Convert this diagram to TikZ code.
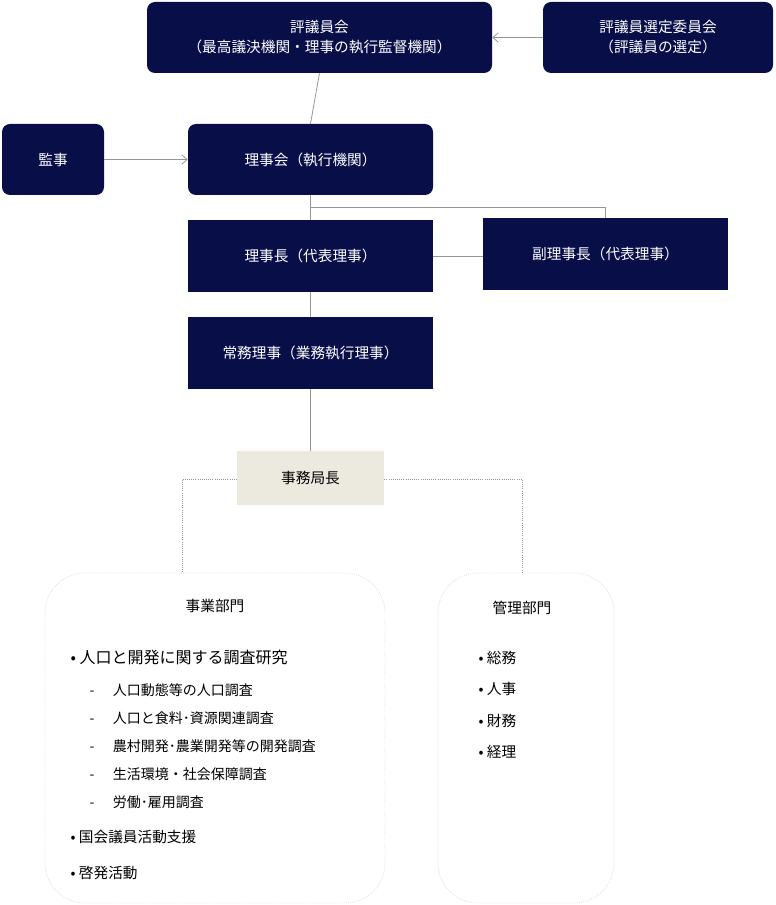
\documentclass[tikz,border=0pt]{standalone}
\usepackage{fontspec}
\setmainfont{Noto Sans CJK JP}
\usetikzlibrary{arrows.meta}
\definecolor{navy}{RGB}{8,14,72}
\definecolor{beige}{RGB}{236,233,223}
\definecolor{lbord}{RGB}{225,222,205}
\definecolor{conn}{RGB}{150,150,150}
\tikzset{
 nbox/.style={fill=navy,draw=none,text=white,font=\fontsize{11}{15}\selectfont,align=center,inner sep=0},
 rbox/.style={nbox,rounded corners=6pt},
 conline/.style={draw=conn,line width=0.6pt},
 arr/.style={conline,-{Straight Barb[length=4pt,width=7pt]}},
 dline/.style={draw=conn,line width=0.6pt,densely dotted},
 dept/.style={draw=lbord,densely dotted,line width=0.6pt,rounded corners=30pt}
}
\begin{document}
\begin{tikzpicture}[x=0.75pt,y=-0.75pt]
\useasboundingbox (0,0) rectangle (775,905);
\node[rbox,minimum width=345*0.75pt,minimum height=71*0.75pt] (hyo) at (319.5,37.5) {評議員会\\（最高議決機関・理事の執行監督機関）};
\node[rbox,minimum width=230*0.75pt,minimum height=71*0.75pt] (sen) at (658,37.5) {評議員選定委員会\\（評議員の選定）};
\node[rbox,minimum width=102*0.75pt,minimum height=71*0.75pt] (kan) at (53,159.5) {監事};
\node[rbox,minimum width=245*0.75pt,minimum height=71*0.75pt] (rij) at (310.5,159.5) {理事会（執行機関）};
\node[nbox,minimum width=245*0.75pt,minimum height=72*0.75pt] (cho) at (310.5,256) {理事長（代表理事）};
\node[nbox,minimum width=245*0.75pt,minimum height=72*0.75pt] (fuku) at (605.5,254) {副理事長（代表理事）};
\node[nbox,minimum width=245*0.75pt,minimum height=72*0.75pt] (jom) at (310.5,353) {常務理事（業務執行理事）};
\node[fill=beige,minimum width=147*0.75pt,minimum height=54*0.75pt,inner sep=0,font=\fontsize{11}{15}\selectfont] (kyoku) at (310.5,478) {事務局長};
\draw[dept] (45,573) rectangle (385,903);
\draw[dept] (438,573) rectangle (614,903);
\coordinate (jt) at (182,573);
\coordinate (kt) at (522,573);
\node[font=\fontsize{11}{15}\selectfont] (jg) at (215,606) {事業部門};
\node[font=\fontsize{11}{15}\selectfont] (kg) at (522,608) {管理部門};
\node[anchor=west,font=\fontsize{12}{15}\selectfont] (a1) at (66,657) {•\ 人口と開発に関する調査研究};
\foreach \t [count=\i] in {人口動態等の人口調査,人口と食料･資源関連調査,農村開発･農業開発等の開発調査,生活環境・社会保障調査,労働･雇用調査}{
  \node[anchor=west,font=\fontsize{10.5}{14}\selectfont] (s\i) at (85,690+28*\i-28) {-\hspace{1.3em}\t};
}
\node[anchor=west,font=\fontsize{11}{15}\selectfont] (a2) at (66,837) {•\ 国会議員活動支援};
\node[anchor=west,font=\fontsize{11}{15}\selectfont] (a3) at (66,873) {•\ 啓発活動};
\foreach \t [count=\i] in {総務,人事,財務,経理}{
  \node[anchor=west,font=\fontsize{11}{15}\selectfont] (m\i) at (474,658+31.3*\i-31.3) {•\ \t};
}
\draw[conline] (hyo.south) -- (rij.north);
\draw[arr] (sen.west) -- (hyo.east);
\draw[arr] (kan.east) -- (rij.west);
\draw[conline] (rij.south) -- (cho.north);
\draw[conline] (310.5,207) -| (fuku.north);
\draw[conline] (cho.east) -- (fuku.west |- cho.east);
\draw[conline] (cho.south) -- (jom.north);
\draw[conline] (jom.south) -- (kyoku.north);
\draw[dline] (kyoku.west |- 0,479) -| (jt);
\draw[dline] (kyoku.east |- 0,479) -| (kt);
\end{tikzpicture}
\end{document}
